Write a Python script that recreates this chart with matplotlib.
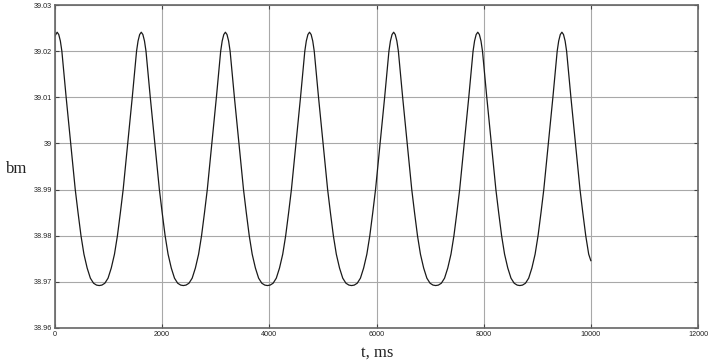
import matplotlib
matplotlib.use("Agg")
import matplotlib.pyplot as plt
from matplotlib.ticker import FuncFormatter

# time (ms), one line per half oscillation
t_ms = [
    0, 40,
    70, 100, 128, 168, 208, 292, 378, 430, 485, 540, 600, 660, 720, 775, 825,
    875, 930, 990, 1050, 1110, 1165, 1220, 1272, 1358, 1442, 1482, 1522, 1550, 1580, 1610,
    1640, 1670, 1698, 1738, 1778, 1862, 1948, 2000, 2055, 2110, 2170, 2230, 2290, 2345, 2395,
    2445, 2500, 2560, 2620, 2680, 2735, 2790, 2842, 2928, 3012, 3052, 3092, 3120, 3150, 3180,
    3210, 3240, 3268, 3308, 3348, 3432, 3518, 3570, 3625, 3680, 3740, 3800, 3860, 3915, 3965,
    4015, 4070, 4130, 4190, 4250, 4305, 4360, 4412, 4498, 4582, 4622, 4662, 4690, 4720, 4750,
    4780, 4810, 4838, 4878, 4918, 5002, 5088, 5140, 5195, 5250, 5310, 5370, 5430, 5485, 5535,
    5585, 5640, 5700, 5760, 5820, 5875, 5930, 5982, 6068, 6152, 6192, 6232, 6260, 6290, 6320,
    6350, 6380, 6408, 6448, 6488, 6572, 6658, 6710, 6765, 6820, 6880, 6940, 7000, 7055, 7105,
    7155, 7210, 7270, 7330, 7390, 7445, 7500, 7552, 7638, 7722, 7762, 7802, 7830, 7860, 7890,
    7920, 7950, 7978, 8018, 8058, 8142, 8228, 8280, 8335, 8390, 8450, 8510, 8570, 8625, 8675,
    8725, 8780, 8840, 8900, 8960, 9015, 9070, 9122, 9208, 9292, 9332, 9372, 9400, 9430, 9460,
    9490, 9520, 9548, 9588, 9628, 9712, 9798, 9850, 9905, 9960, 10000,
]
# b_m read at those times
b_m = [
    39.0233, 39.0241,
    39.0236, 39.0222, 39.0200, 39.0150, 39.0100, 39.0000, 38.9900, 38.9850, 38.9800, 38.9760, 38.9730, 38.9708, 38.9697, 38.9693, 38.9692,
    38.9693, 38.9697, 38.9708, 38.9730, 38.9760, 38.9800, 38.9850, 38.9900, 39.0000, 39.0100, 39.0150, 39.0200, 39.0222, 39.0236, 39.0241,
    39.0236, 39.0222, 39.0200, 39.0150, 39.0100, 39.0000, 38.9900, 38.9850, 38.9800, 38.9760, 38.9730, 38.9708, 38.9697, 38.9693, 38.9692,
    38.9693, 38.9697, 38.9708, 38.9730, 38.9760, 38.9800, 38.9850, 38.9900, 39.0000, 39.0100, 39.0150, 39.0200, 39.0222, 39.0236, 39.0241,
    39.0236, 39.0222, 39.0200, 39.0150, 39.0100, 39.0000, 38.9900, 38.9850, 38.9800, 38.9760, 38.9730, 38.9708, 38.9697, 38.9693, 38.9692,
    38.9693, 38.9697, 38.9708, 38.9730, 38.9760, 38.9800, 38.9850, 38.9900, 39.0000, 39.0100, 39.0150, 39.0200, 39.0222, 39.0236, 39.0241,
    39.0236, 39.0222, 39.0200, 39.0150, 39.0100, 39.0000, 38.9900, 38.9850, 38.9800, 38.9760, 38.9730, 38.9708, 38.9697, 38.9693, 38.9692,
    38.9693, 38.9697, 38.9708, 38.9730, 38.9760, 38.9800, 38.9850, 38.9900, 39.0000, 39.0100, 39.0150, 39.0200, 39.0222, 39.0236, 39.0241,
    39.0236, 39.0222, 39.0200, 39.0150, 39.0100, 39.0000, 38.9900, 38.9850, 38.9800, 38.9760, 38.9730, 38.9708, 38.9697, 38.9693, 38.9692,
    38.9693, 38.9697, 38.9708, 38.9730, 38.9760, 38.9800, 38.9850, 38.9900, 39.0000, 39.0100, 39.0150, 39.0200, 39.0222, 39.0236, 39.0241,
    39.0236, 39.0222, 39.0200, 39.0150, 39.0100, 39.0000, 38.9900, 38.9850, 38.9800, 38.9760, 38.9730, 38.9708, 38.9697, 38.9693, 38.9692,
    38.9693, 38.9697, 38.9708, 38.9730, 38.9760, 38.9800, 38.9850, 38.9900, 39.0000, 39.0100, 39.0150, 39.0200, 39.0222, 39.0236, 39.0241,
    39.0236, 39.0222, 39.0200, 39.0150, 39.0100, 39.0000, 38.9900, 38.9850, 38.9800, 38.9760, 38.9746,
]

x_ticks = [0, 2000, 4000, 6000, 8000, 10000, 12000]
y_ticks = [38.96, 38.97, 38.98, 38.99, 39.00, 39.01, 39.02, 39.03]

fig = plt.figure(figsize=(7.18, 3.63), dpi=100)
ax = fig.add_axes([55 / 718, 1 - 328 / 363, 643 / 718, 323 / 363])

ax.plot(t_ms, b_m, color="#1a1a1a", linewidth=0.9)

ax.set_xlim(0, 12000)
ax.set_ylim(38.96, 39.03)
ax.set_xticks(x_ticks)
ax.set_yticks(y_ticks)
ax.yaxis.set_major_formatter(FuncFormatter(lambda v, p: "%g" % round(v, 2)))
ax.grid(True, color="#a8a8a8", linewidth=0.8)
ax.tick_params(direction="in", length=3, width=0.8, color="#444444",
               top=True, right=True, labelsize=5.2, pad=2, labelcolor="#222222")
for lab in ax.get_xticklabels() + ax.get_yticklabels():
    lab.set_family("Liberation Sans")
for s in ax.spines.values():
    s.set_color("#666666")
    s.set_linewidth(1.2)

fig.text(377 / 718, 1 - 353 / 363, "t, ms", family="Liberation Serif",
         fontsize=12, ha="center", va="center", color="#222222")
fig.text(17 / 718, 1 - 169 / 363, "bm", family="Liberation Serif",
         fontsize=12, ha="center", va="center", color="#222222")

fig.savefig("out.png", dpi=100)
